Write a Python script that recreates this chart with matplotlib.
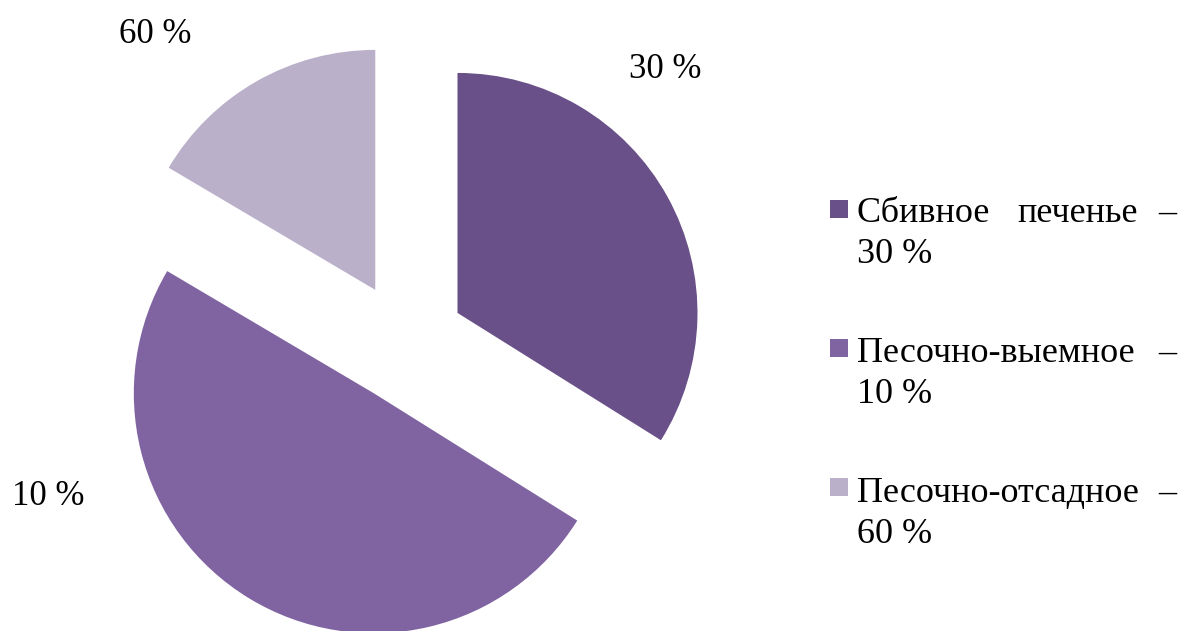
import matplotlib
matplotlib.use("Agg")
import matplotlib.pyplot as plt
from matplotlib.patches import Rectangle

# Chart data
categories = ["Сбивное печенье", "Песочно-выемное", "Песочно-отсадное"]
shares = [33.9, 49.6, 16.5]
pct_labels = ["30 %", "10 %", "60 %"]
colors = ["#6A5088", "#8064A2", "#BAB0CA"]

W, H = 1189, 631
FONT = "Liberation Serif"
FS = 25
FS_LEG = 26

fig = plt.figure(figsize=(W / 100, H / 100), dpi=100)
ax = fig.add_axes([0, 0, 1, 1])

# work in pixel units, y measured upward
ax.pie(
    shares,
    colors=colors,
    startangle=90,
    counterclock=False,
    radius=240,
    center=(405, H - 342),
    explode=[60] * len(shares),
    wedgeprops=dict(linewidth=0),
)
ax.set_aspect("auto")
ax.set_xlim(0, W)
ax.set_ylim(0, H)
ax.axis("off")

# percentage labels around the pie
label_pos = [(665, 78), (48, 505), (155, 43)]
for txt, (px, py) in zip(pct_labels, label_pos):
    ax.text(px, H - py, txt, ha="center", va="baseline",
            fontsize=FS, family=FONT)

# legend on the right: justified first line (words spread, dash at the edge)
x_left, x_words_end, x_dash = 857, 1138, 1176
for i, (cat, pct, col) in enumerate(zip(categories, pct_labels, colors)):
    top = 200 + 139 * i
    ax.add_patch(Rectangle((830, H - top - 18), 18, 18, color=col, lw=0))
    base = 222 + 140 * i
    words = cat.split()
    if len(words) == 1:
        ax.text(x_left, H - base, cat, ha="left", va="baseline",
                fontsize=FS_LEG, family=FONT)
    else:
        ax.text(x_left, H - base, words[0], ha="left", va="baseline",
                fontsize=FS_LEG, family=FONT)
        ax.text(x_words_end, H - base, words[-1], ha="right", va="baseline",
                fontsize=FS_LEG, family=FONT)
    ax.text(x_dash, H - base, "–", ha="right", va="baseline",
            fontsize=FS_LEG, family=FONT)
    ax.text(x_left, H - base - 41, pct, ha="left", va="baseline",
            fontsize=FS_LEG, family=FONT)

fig.savefig("out.png", dpi=100, facecolor="white")
